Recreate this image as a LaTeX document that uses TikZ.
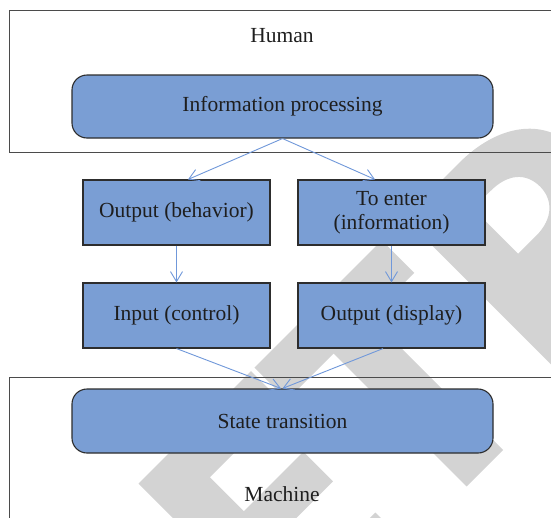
\documentclass[tikz,border=0pt]{standalone}
\usepackage{fontspec}
\setmainfont{Liberation Serif}
\usetikzlibrary{arrows.meta}

\definecolor{boxblue}{RGB}{122,158,212}
\definecolor{linkblue}{RGB}{112,152,218}
\definecolor{edgedark}{RGB}{45,45,45}
\definecolor{framedark}{RGB}{75,75,75}
\definecolor{ink}{RGB}{30,30,30}
\definecolor{markgray}{RGB}{211,211,211}

\begin{document}
\begin{tikzpicture}[x=1pt,y=1pt,
  every node/.style={font=\fontsize{21.5}{24}\selectfont, text=ink},
  zonebox/.style={draw=framedark, line width=1.3pt, rectangle, inner sep=0pt},
  roundbox/.style={draw=edgedark, line width=1.1pt, fill=boxblue, rectangle,
    rounded corners=15pt, minimum width=421pt, minimum height=63pt, inner sep=0pt},
  stepbox/.style={draw=edgedark, line width=1.1pt, fill=boxblue, rectangle,
    minimum width=187pt, minimum height=65pt, inner sep=0pt, align=center},
  flow/.style={draw=linkblue, line width=0.9pt,
    -{Straight Barb[length=10pt,width=12pt]}},
]
\useasboundingbox (0,0) rectangle (551,-517);
\fill[white] (0,0) rectangle (551,-517);
\clip (0,0) rectangle (551,-517);

% light grey lettering in the background, rotated by 45 degrees
\begin{scope}[shift={(476.5,-476.5)}, rotate=45]
  % E
  \fill[markgray] (-244,0) -- (-97,0) -- (-97,46) -- (-189,46) -- (-189,98)
    -- (-105,98) -- (-105,140) -- (-189,140) -- (-189,188) -- (-85,188)
    -- (-85,234) -- (-244,234) -- cycle;
  % T
  \fill[markgray] (-80,234) -- (100,234) -- (100,188) -- (37.5,188)
    -- (37.5,0) -- (-14,0) -- (-14,188) -- (-80,188) -- cycle;
  % R
  \fill[markgray, even odd rule]
    (132,0) -- (132,234) -- (210,234)
      .. controls (262,234) and (302,208) .. (302,162)
      .. controls (302,125) and (280,98) .. (245,88)
      -- (320,0) -- (255,0) -- (195,82) -- (187,82) -- (187,0) -- cycle
    (187,128) -- (212,128)
      .. controls (238,128) and (250,143) .. (250,160)
      .. controls (250,180) and (236,192) .. (212,192)
      -- (187,192) -- cycle;
\end{scope}

% the two zones
\node[zonebox, minimum width=570pt, minimum height=142pt, anchor=north west]
  (human) at (9,-10) {};
\node[zonebox, minimum width=570pt, minimum height=170pt, anchor=north west]
  (machine) at (9,-377) {};
\node (humantext) at (282,-36) {Human};
\node (machinetext) at (282,-494) {Machine};

% processing stages
\node[roundbox] (info) at (282.5,-106.5) {Information processing};
\node[roundbox, minimum height=64pt] (state) at (282.5,-421) {State transition};

\node[stepbox] (beh) at (176.5,-212.5) {Output (behavior)};
\node[stepbox] (enter) at (391.5,-212.5) {To enter\\(information)};
\node[stepbox] (input) at (176.5,-315.5) {Input (control)};
\node[stepbox] (display) at (391.5,-315.5) {Output (display)};

% connectors
\draw[flow] (info.south) -- ([xshift=11.5pt]beh.north);
\draw[flow] (info.south) -- ([xshift=-16.5pt]enter.north);
\draw[flow] (beh.south) -- (input.north);
\draw[flow] (enter.south) -- (display.north);
\draw[flow] (input.south) -- ([xshift=-1.5pt]state.north);
\draw[flow] ([xshift=-8.5pt]display.south) -- (state.north);
\end{tikzpicture}
\end{document}
